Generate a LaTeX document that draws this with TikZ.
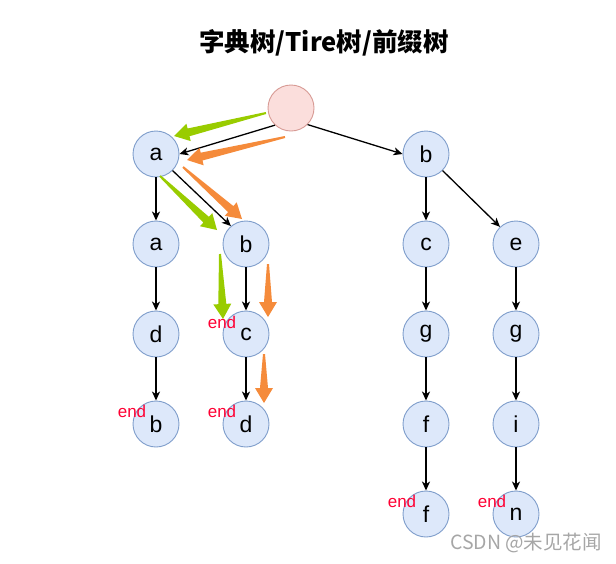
\documentclass[tikz,border=0pt]{standalone}
\usepackage{fontspec}
\setmainfont{Liberation Sans}
\newfontfamily\cjk{Noto Sans CJK SC}
\usepackage{xcolor}
\usepackage{tikz}
\usetikzlibrary{arrows.meta,calc}

\definecolor{nodefill}{HTML}{DDE8FA}
\definecolor{nodeline}{HTML}{7E9DCB}
\definecolor{rootfill}{HTML}{FBDEDC}
\definecolor{rootline}{HTML}{D79A94}
\definecolor{pathgreen}{HTML}{99CC00}
\definecolor{pathorange}{HTML}{F58B3B}
\definecolor{endred}{HTML}{FF0033}

% tapered pointer from #2 (tail) to #3 (tip)
\newcommand{\fatarrow}[3]{%
  \coordinate (fh) at ($(#3)!15pt!(#2)$);
  \fill[#1] ($(#2)!1pt!90:(#3)$) -- ($(fh)!4pt!90:(#3)$)
    -- ($(fh)!9pt!90:(#3)$) -- (#3) -- ($(fh)!9pt!-90:(#3)$)
    -- ($(fh)!4pt!-90:(#3)$) -- ($(#2)!1pt!-90:(#3)$) -- cycle;
}

\begin{document}
\begin{tikzpicture}[x=1pt,y=-1pt,
    trie/.style={circle,draw=nodeline,fill=nodefill,line width=0.9pt,
      minimum size=46pt,inner sep=0pt,font=\fontsize{23}{23}\selectfont},
    endtag/.style={text=endred,inner sep=0pt,font=\fontsize{17}{17}\selectfont},
    edge/.style={line width=1.3pt,-{Stealth[length=9pt,width=8pt,inset=2.5pt]}}]
    \useasboundingbox (0,0) rectangle (616,563);
    \node[font=\cjk\bfseries\fontsize{25.5}{30}\selectfont] (title) at (324,43) {字典树/Tire树/前缀树};

    \node[circle,draw=rootline,fill=rootfill,line width=0.9pt,minimum size=46pt] (root) at (291,108) {};
    \node[trie] (a1) at (156,154) {a};
    \node[trie] (b1) at (426,154) {b};
    \node[trie] (a2) at (156,244) {a};
    \node[trie] (b2) at (246,244) {b};
    \node[trie] (c2) at (426,244) {c};
    \node[trie] (e2) at (516,244) {e};
    \node[trie] (d3) at (156,334) {d};
    \node[trie] (c3) at (246,334) {c};
    \node[trie] (g3) at (426,334) {g};
    \node[trie] (h3) at (516,334) {g};
    \node[trie] (b4) at (156,424) {b};
    \node[trie] (d4) at (246,424) {d};
    \node[trie] (f4) at (426,424) {f};
    \node[trie] (i4) at (516,424) {i};
    \node[trie] (f5) at (426,514) {f};
    \node[trie] (n5) at (516,514) {n};

    \draw[edge] (root.-133) -- (a1.east);
    \draw[edge] (root.-45) -- (b1.west);
    \draw[edge] (a1) -- (a2);
    \draw[edge] (a1.-45) -- (b2.130);
    \draw[edge] (b1) -- (c2);
    \draw[edge] (b1.-45) -- (e2.133);
    \draw[edge] (a2) -- (d3);
    \draw[edge] (b2) -- (c3);
    \draw[edge] (c2) -- (g3);
    \draw[edge] (e2) -- (h3);
    \draw[edge] (d3) -- (b4);
    \draw[edge] (c3) -- (d4);
    \draw[edge] (g3) -- (f4);
    \draw[edge] (h3) -- (i4);
    \draw[edge] (f4) -- (f5);
    \draw[edge] (i4) -- (n5);

    \node[endtag] (c3end) at (222,322) {end};
    \node[endtag] (b4end) at (132,411) {end};
    \node[endtag] (d4end) at (222,411) {end};
    \node[endtag] (f5end) at (402,501) {end};
    \node[endtag] (n5end) at (492,501) {end};

    % search paths
    \coordinate (g1s) at (266,113);
    \coordinate (g1e) at (174,136);
    \coordinate (g2s) at (160,176);
    \coordinate (g2e) at (217,230);
    \coordinate (g3s) at (220,254);
    \coordinate (g3e) at (223,319);
    \coordinate (o1s) at (285,137);
    \coordinate (o1e) at (187,160);
    \coordinate (o2s) at (183,167);
    \coordinate (o2e) at (242,219);
    \coordinate (o3s) at (268,264);
    \coordinate (o3e) at (268,317);
    \coordinate (o4s) at (264,354);
    \coordinate (o4e) at (264,403);
    \fatarrow{pathgreen}{g1s}{g1e}
    \fatarrow{pathgreen}{g2s}{g2e}
    \fatarrow{pathgreen}{g3s}{g3e}
    \fatarrow{pathorange}{o1s}{o1e}
    \fatarrow{pathorange}{o2s}{o2e}
    \fatarrow{pathorange}{o3s}{o3e}
    \fatarrow{pathorange}{o4s}{o4e}

    \node[font=\cjk\fontsize{19.5}{19.5}\selectfont,text=black!35] (mark) at (526,543) {CSDN @未见花闻};
  \end{tikzpicture}
\end{document}
